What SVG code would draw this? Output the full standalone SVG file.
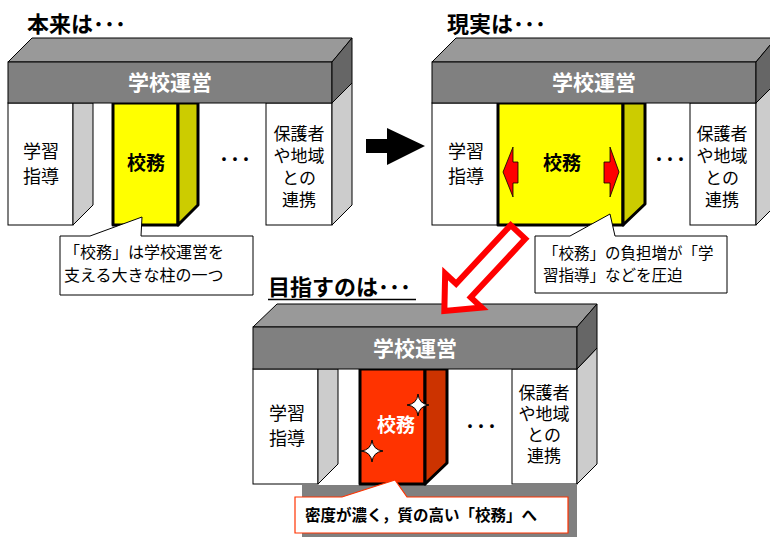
<svg xmlns="http://www.w3.org/2000/svg" width="770" height="537" viewBox="0 0 770 537">
<style>
text{font-family:"Noto Sans CJK JP","Noto Sans",sans-serif;}
.ttl{font-size:22px;font-weight:bold;fill:#000;}
.bm{font-size:21px;font-weight:bold;fill:#fff;text-anchor:middle;}
.pl{font-size:18px;fill:#000;text-anchor:middle;}
.pr{font-size:17px;fill:#000;text-anchor:middle;}
.kb{font-size:19px;font-weight:bold;fill:#000;text-anchor:middle;}
.dots{font-size:22px;fill:#000;text-anchor:middle;}
.co{font-size:16px;fill:#000;}
.top{fill:#999999;stroke:#000;stroke-width:1;}
.front{fill:#808080;stroke:#000;stroke-width:1;}
.rside{fill:#666666;stroke:#000;stroke-width:1;}
.pf{fill:#fff;stroke:#000;stroke-width:1;}
.ps{fill:#cccccc;stroke:#000;stroke-width:1;}
.yf{fill:#ffff00;stroke:#000;stroke-width:3;stroke-linejoin:round;}
.ys{fill:#cccc00;stroke:#000;stroke-width:3;stroke-linejoin:round;}
.of{fill:#ff3300;stroke:#000;stroke-width:3;stroke-linejoin:round;}
.os{fill:#cc3300;stroke:#000;stroke-width:3;stroke-linejoin:round;}
.call{fill:#fff;stroke:#000;stroke-width:1;}
.ra{fill:#ff0000;stroke:#000;stroke-width:0.8;}
</style>
<defs>
<path id="star" d="M0,-11 Q1,-1 11,0 Q1,1 0,11 Q-1,1 -11,0 Q-1,-1 0,-11 Z" fill="#fff" stroke="#000" stroke-width="1"/>
</defs>

<!-- Diagram 1 -->
<g id="diagram1">
  <text class="ttl" x="27" y="32">本来は･･･</text>
  <g id="d1-gakushu">
    <rect class="pf" x="8" y="103" width="65" height="122"/>
    <polygon class="ps" points="73,103 93,103 93,205 73,225"/>
    <text class="pl" x="41" y="158">学習</text>
    <text class="pl" x="41" y="183">指導</text>
  </g>
  <g id="d1-koumu">
    <rect class="yf" x="113" y="103" width="65" height="122"/>
    <polygon class="ys" points="178,103 198,103 198,205 178,225"/>
    <text class="kb" x="146" y="170">校務</text>
  </g>
  <text class="dots" x="235" y="167">･･･</text>
  <g id="d1-hogosha">
    <rect class="pf" x="266" y="103" width="66" height="122"/>
    <polygon class="ps" points="332,103 352,83 352,205 332,225"/>
    <text class="pr" x="299" y="140">保護者</text>
    <text class="pr" x="299" y="162">や地域</text>
    <text class="pr" x="299" y="184">との</text>
    <text class="pr" x="299" y="206">連携</text>
  </g>
  <g id="d1-beam">
    <polygon class="top" points="8,62 32,38 352,38 332,62"/>
    <rect class="front" x="8" y="62" width="324" height="41"/>
    <polygon class="rside" points="332,62 352,38 352,83 332,103"/>
    <text class="bm" x="170" y="90">学校運営</text>
  </g>
  <g id="d1-callout">
    <path class="call" d="M60,236 H90 L142,217 L141,236 H253 V295 H60 Z"/>
    <text class="co" x="64" y="258">「校務」は学校運営を</text>
    <text class="co" x="64" y="281">支える大きな柱の一つ</text>
  </g>
</g>

<!-- Diagram 2 -->
<g id="diagram2">
  <text class="ttl" x="447" y="32">現実は･･･</text>
  <g id="d2-gakushu">
    <rect class="pf" x="432" y="103" width="66" height="122"/>
    <text class="pl" x="466" y="158">学習</text>
    <text class="pl" x="466" y="183">指導</text>
  </g>
  <g id="d2-koumu">
    <rect class="yf" x="498" y="103" width="125" height="122"/>
    <polygon class="ys" points="623,103 645,103 645,204 623,225"/>
    <text class="kb" x="562" y="170">校務</text>
    <polygon class="ra" points="503,172 513,147 513,162 518,162 518,183 513,183 513,197"/>
    <polygon class="ra" points="619,172 610,147 610,162 604,162 604,183 610,183 610,197"/>
  </g>
  <text class="dots" x="670" y="167">･･･</text>
  <g id="d2-hogosha">
    <rect class="pf" x="690" y="103" width="66" height="122"/>
    <polygon class="ps" points="756,103 776,83 776,205 756,225"/>
    <text class="pr" x="722" y="140">保護者</text>
    <text class="pr" x="722" y="162">や地域</text>
    <text class="pr" x="722" y="184">との</text>
    <text class="pr" x="722" y="206">連携</text>
  </g>
  <g id="d2-beam">
    <polygon class="top" points="432,62 456,38 776,38 756,62"/>
    <rect class="front" x="432" y="62" width="324" height="41"/>
    <polygon class="rside" points="756,62 776,38 776,83 756,103"/>
    <text class="bm" x="594" y="90">学校運営</text>
  </g>
  <g id="d2-callout">
    <path class="call" d="M535,236 H570 L610,214 L615,236 H727 V293 H535 Z"/>
    <text class="co" x="543" y="259" style="font-size:15.5px">「校務」の負担増が「学</text>
    <text class="co" x="543" y="281" style="font-size:15.5px">習指導」などを圧迫</text>
  </g>
</g>

<!-- Diagram 3 -->
<g id="diagram3">
  <text class="ttl" x="268" y="295">目指すのは･･･</text>
  <line x1="268" y1="299.5" x2="416" y2="299.5" stroke="#000" stroke-width="1.5"/>
  <rect x="302" y="485" width="275" height="52" fill="#808080"/>
  <g id="d3-gakushu">
    <rect class="pf" x="253" y="369" width="65" height="115"/>
    <polygon class="ps" points="318,369 338,369 338,464 318,484"/>
    <text class="pl" x="287" y="420">学習</text>
    <text class="pl" x="287" y="445">指導</text>
  </g>
  <g id="d3-koumu">
    <rect class="of" x="360" y="369" width="65" height="115"/>
    <polygon class="os" points="425,369 447,369 447,463 425,484"/>
    <text class="kb" x="396" y="432" style="fill:#fff">校務</text>
    <use href="#star" x="418" y="405"/>
    <use href="#star" x="372" y="451"/>
  </g>
  <text class="dots" x="481" y="434">･･･</text>
  <g id="d3-hogosha">
    <rect class="pf" x="512" y="369" width="65" height="115"/>
    <polygon class="ps" points="577,369 597,348 597,464 577,484"/>
    <text class="pr" x="544" y="399">保護者</text>
    <text class="pr" x="544" y="420">や地域</text>
    <text class="pr" x="544" y="441">との</text>
    <text class="pr" x="544" y="462">連携</text>
  </g>
  <g id="d3-beam">
    <polygon class="top" points="253,327 277,304 597,304 577,327"/>
    <rect class="front" x="253" y="327" width="324" height="42"/>
    <polygon class="rside" points="577,327 597,304 597,348 577,369"/>
    <text class="bm" x="415" y="356">学校運営</text>
  </g>
  <g id="d3-callout">
    <path d="M295,497 H342 L395,480 L407,497 H568 V533 H295 Z" fill="#fff" stroke="#ff3300" stroke-width="1.2"/>
    <text x="305" y="521" style="font-size:15.5px;font-weight:bold;fill:#000">密度が濃く，質の高い「校務」へ</text>
  </g>
</g>

<!-- Connectors -->
<g id="connectors">
  <polygon points="366,139 387,139 387,128 425,146 387,165 387,153 366,153" fill="#000"/>
  <g transform="translate(518,232) rotate(133)">
    <polygon points="0,-10 80,-10 80,-25 108,0 80,25 80,10 0,10" fill="#fff" stroke="#ff0000" stroke-width="6" stroke-linejoin="miter"/>
  </g>
</g>
</svg>
